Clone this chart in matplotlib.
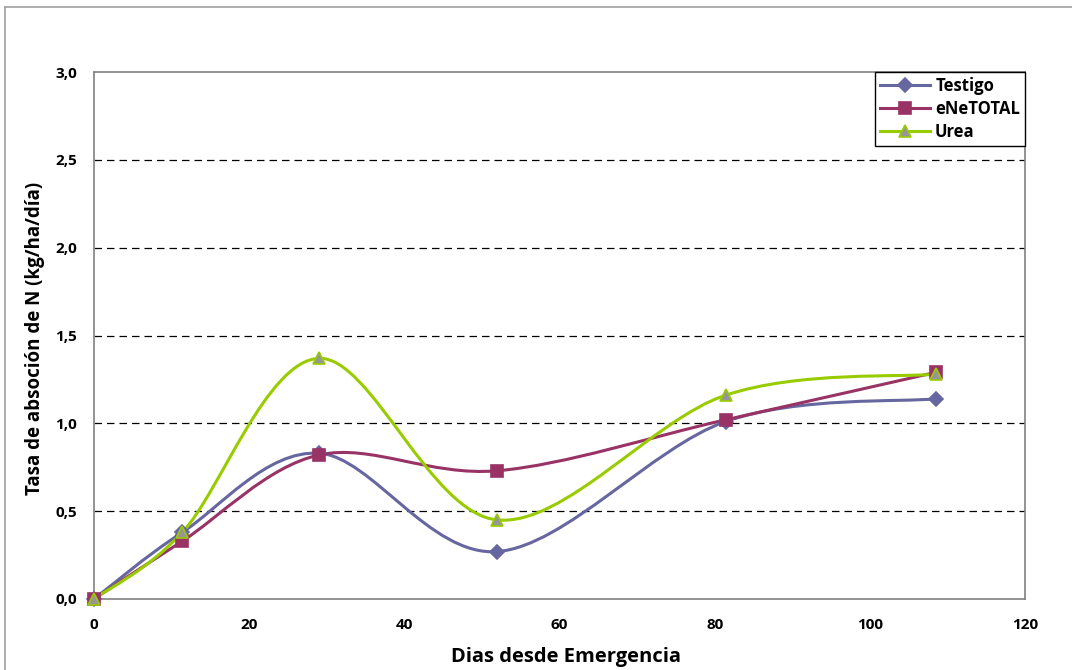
import matplotlib
matplotlib.use("Agg")
import matplotlib.pyplot as plt
from matplotlib.path import Path
from matplotlib.patches import PathPatch
from matplotlib.lines import Line2D
import numpy as np

# ---- data ----
dias = [0, 11.4, 29.0, 52.0, 81.4, 108.5]
testigo = [0.0, 0.38, 0.83, 0.27, 1.01, 1.14]
enetotal = [0.0, 0.33, 0.82, 0.73, 1.02, 1.29]
urea = [0.0, 0.38, 1.37, 0.45, 1.16, 1.28]
series_names = ["Testigo", "eNeTOTAL", "Urea"]
x_ticks = [0, 20, 40, 60, 80, 100, 120]
y_ticks = [0.0, 0.5, 1.0, 1.5, 2.0, 2.5, 3.0]
y_tick_labels = ["0,0", "0,5", "1,0", "1,5", "2,0", "2,5", "3,0"]

W, H = 1072, 670
fig = plt.figure(figsize=(W / 100, H / 100), dpi=100)
plt.rcParams['font.family'] = ['Open Sans', 'DejaVu Sans']

# chart-area frame (left and top visible)
fig.add_artist(Line2D([5 / W, 5 / W], [0, 1 - 7 / H], color="#a0a0a0", lw=1.2))
fig.add_artist(Line2D([5 / W, 1], [1 - 7 / H, 1 - 7 / H], color="#a0a0a0", lw=1.2))

left, right, top, bottom = 94, 1025, 72, 599
ax = fig.add_axes([left / W, 1 - bottom / H, (right - left) / W, (bottom - top) / H])
ax.set_xlim(0, 120)
ax.set_ylim(0, 3.0)
for s in ax.spines.values():
    s.set_color("#808080")
    s.set_linewidth(1.2)

ax.set_xticks(x_ticks)
ax.set_xticklabels([str(v) for v in x_ticks])
ax.set_yticks(y_ticks)
ax.set_yticklabels(y_tick_labels)
ax.tick_params(length=0, labelsize=11, pad=12)
for lab in ax.get_xticklabels() + ax.get_yticklabels():
    lab.set_fontweight("bold")
ax.tick_params(axis="x", pad=14)

for yv in y_ticks[1:-1]:
    ax.axhline(yv, color="black", lw=0.9, ls=(0, (6, 4)), zorder=1)


def smooth_path(xs, ys):
    pts = np.column_stack([xs, ys])
    n = len(pts)
    verts = [pts[0]]
    codes = [Path.MOVETO]
    for i in range(n - 1):
        p0 = pts[i - 1] if i > 0 else pts[i]
        p1 = pts[i]
        p2 = pts[i + 1]
        p3 = pts[i + 2] if i + 2 < n else pts[i + 1]
        c1 = p1 + (p2 - p0) / 6.0
        c2 = p2 - (p3 - p1) / 6.0
        verts += [c1, c2, p2]
        codes += [Path.CURVE4] * 3
    return Path(verts, codes)


styles = [
    dict(color="#6666A0", marker="D", mfc="#6666A0", mec="#6666A0", ms=7),
    dict(color="#993366", marker="s", mfc="#993366", mec="#993366", ms=8),
    dict(color="#99CC00", marker="^", mfc="#969696", mec="#99CC00", ms=9),
]
handles = []
for name, ys, st in zip(series_names, [testigo, enetotal, urea], styles):
    patch = PathPatch(smooth_path(dias, ys), fill=False, edgecolor=st["color"], lw=2.2, zorder=3)
    ax.add_patch(patch)
    ax.plot(dias, ys, ls="none", marker=st["marker"], ms=st["ms"], mfc=st["mfc"],
            mec=st["mec"], mew=1.2, zorder=4, clip_on=False)
    handles.append(Line2D([], [], color=st["color"], lw=2.2, marker=st["marker"],
                          ms=st["ms"], mfc=st["mfc"], mec=st["mec"], mew=1.2, label=name))

leg = ax.legend(handles=handles, loc="upper right", bbox_to_anchor=(1.0, 1.0),
                frameon=True, fancybox=False, edgecolor="black", framealpha=1,
                prop=dict(weight="bold", size=12), handlelength=3.0,
                borderaxespad=0.0, labelspacing=0.3, borderpad=0.3, handletextpad=0.3)
leg.get_frame().set_linewidth(1.0)

fig.text(35 / W, 1 - 338 / H, "Tasa de absoción de N (kg/ha/día)", rotation=90,
         ha="center", va="center", fontsize=13.5, fontweight="bold")
fig.text(566 / W, 1 - 657 / H, "Dias desde Emergencia", ha="center", va="center",
         fontsize=14.5, fontweight="bold")

fig.savefig("out.png", dpi=100)
